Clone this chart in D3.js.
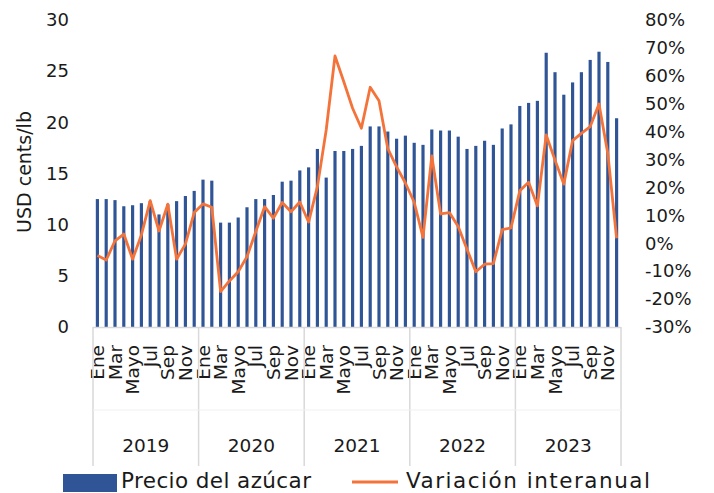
<!DOCTYPE html>
<html>
<head>
<meta charset="utf-8">
<script src="https://cdn.jsdelivr.net/npm/d3@7"></script>
<style>
	body { margin: 0; background: white; }
	svg text { font-family: "DejaVu Sans", sans-serif; fill: #1a1a1a; }
</style>
</head>
<body>
<svg id="chart" width="714" height="493"></svg>
<script>
var years = ["2019", "2020", "2021", "2022", "2023"];
var months = ["Ene", "Feb", "Mar", "Abr", "Mayo", "Jun", "Jul", "Ago", "Sep", "Oct", "Nov", "Dic"];

// precio del azucar, USD cents/lb, ene 2019 - dic 2023
var precio = [
	12.5, 12.5, 12.4, 11.8, 11.9, 12.1, 12.3, 11.0, 12.0, 12.3, 12.8, 13.3,
	14.4, 14.3, 10.2, 10.2, 10.7, 11.7, 12.5, 12.5, 12.9, 14.2, 14.3, 15.3,
	15.6, 17.4, 14.6, 17.2, 17.2, 17.4, 17.7, 19.6, 19.6, 19.1, 18.4, 18.7,
	18.0, 17.8, 19.3, 19.2, 19.2, 18.6, 17.4, 17.7, 18.2, 17.8, 19.4, 19.8,
	21.6, 21.9, 22.1, 26.8, 24.9, 22.7, 23.9, 24.9, 26.1, 26.9, 25.9, 20.4
];
// variacion interanual, %
var variacion = [
	-4.4, -6.0, 0.9, 3.3, -5.7, 3.0, 15.3, 4.4, 14.0, -5.7, -0.3, 11.0,
	14.1, 12.9, -17.3, -13.5, -10.2, -4.8, 4.2, 13.1, 9.0, 14.6, 11.3, 14.8,
	7.6, 20.3, 40.6, 67.1, 57.9, 48.4, 41.2, 55.9, 51.1, 33.9, 27.4, 21.6,
	14.7, 2.1, 31.3, 10.5, 11.0, 6.0, -2.1, -10.2, -7.5, -7.3, 4.9, 5.5,
	18.8, 21.9, 13.4, 38.8, 29.8, 21.2, 36.8, 39.4, 41.8, 49.9, 32.2, 1.8
];
var leftTicks = [0, 5, 10, 15, 20, 25, 30];
var rightTicks = [-30, -20, -10, 0, 10, 20, 30, 40, 50, 60, 70, 80];

var svg = d3.select("#chart");
var margin = { top: 20, left: 93, right: 621, bottom: 327 };

var idx = d3.range(precio.length);
var x = d3.scaleBand()
	.domain(idx)
	.range([margin.left, margin.right])
	.paddingInner(0.64)
	.paddingOuter(0.32);
var yL = d3.scaleLinear().domain([0, 30]).range([margin.bottom, margin.top]);
var yR = d3.scaleLinear().domain([-30, 80]).range([margin.bottom, margin.top]);
var cx = function(i) { return x(i) + x.bandwidth() / 2; };

// left axis
var axL = svg.append("g")
	.attr("transform", "translate(" + 69 + ",0)")
	.call(d3.axisLeft(yL).tickValues(leftTicks).tickSize(0).tickPadding(0));
axL.select(".domain").remove();
axL.selectAll("text").attr("font-size", "18px").attr("font-family", "DejaVu Sans");

// right axis
var axR = svg.append("g")
	.attr("transform", "translate(" + 645 + ",0)")
	.call(d3.axisRight(yR).tickValues(rightTicks).tickSize(0).tickPadding(0)
		.tickFormat(function(d) { return d + "%"; }));
axR.select(".domain").remove();
axR.selectAll("text").attr("font-size", "18px").attr("font-family", "DejaVu Sans");

svg.append("text")
	.attr("transform", "translate(" + 31 + "," + 172 + ") rotate(-90)")
	.attr("text-anchor", "middle")
	.attr("font-size", "19px")
	.text("USD cents/lb");

// bars
svg.append("g").selectAll("rect")
	.data(idx)
	.enter().append("rect")
	.attr("x", function(i) { return x(i); })
	.attr("y", function(i) { return yL(precio[i]); })
	.attr("width", x.bandwidth())
	.attr("height", function(i) { return yL(0) - yL(precio[i]); })
	.attr("fill", "#2f5597");

// x baseline
svg.append("line")
	.attr("x1", margin.left).attr("x2", margin.right)
	.attr("y1", yL(0) + 0.5).attr("y2", yL(0) + 0.5)
	.attr("stroke", "#d9d9d9").attr("stroke-width", 1.5);

// line
var line = d3.line()
	.x(function(i) { return cx(i); })
	.y(function(i) { return yR(variacion[i]); });
svg.append("path")
	.datum(idx)
	.attr("d", line)
	.attr("fill", "none")
	.attr("stroke", "#f4733a")
	.attr("stroke-width", 2.8)
	.attr("stroke-linejoin", "round");

// month labels
var axM = svg.append("g")
	.attr("transform", "translate(0," + yL(0) + ")")
	.call(d3.axisBottom(x).tickSize(0)
		.tickFormat(function(i) { return i % 2 == 0 ? months[i % 12] : ""; }));
axM.select(".domain").remove();
axM.selectAll("text")
	.attr("font-size", "18.5px")
	.attr("font-family", "DejaVu Sans")
	.attr("text-anchor", "end")
	.attr("transform", "rotate(-90)")
	.attr("x", -18)
	.attr("y", 0)
	.attr("dy", "0.36em");

// year groups
var yearW = (margin.right - margin.left) / years.length;
var yearScale = d3.scaleBand().domain(years).range([margin.left, margin.right]);
svg.append("g").selectAll("line")
	.data(d3.range(years.length + 1))
	.enter().append("line")
	.attr("x1", function(j) { return margin.left + j * yearW; })
	.attr("x2", function(j) { return margin.left + j * yearW; })
	.attr("y1", yL(0))
	.attr("y2", 466)
	.attr("stroke", "#d9d9d9").attr("stroke-width", 1.5);
svg.append("line")
	.attr("x1", margin.left).attr("x2", margin.right)
	.attr("y1", 410).attr("y2", 410)
	.attr("stroke", "#f0f0f0").attr("stroke-width", 1);
svg.append("g").selectAll("text")
	.data(years)
	.enter().append("text")
	.attr("x", function(d) { return yearScale(d) + yearScale.bandwidth() / 2; })
	.attr("y", 452)
	.attr("text-anchor", "middle")
	.attr("font-size", "18.5px")
	.text(function(d) { return d; });

// legend
var leg = svg.append("g");
leg.append("rect")
	.attr("x", 63).attr("y", 474).attr("width", 54).attr("height", 18)
	.attr("fill", "#2f5597");
leg.append("text")
	.attr("x", 121).attr("y", 488)
	.attr("font-size", "21.5px")
	.attr("textLength", 190)
	.attr("lengthAdjust", "spacing")
	.text("Precio del azúcar");
leg.append("line")
	.attr("x1", 352).attr("x2", 398).attr("y1", 482).attr("y2", 482)
	.attr("stroke", "#f4733a").attr("stroke-width", 3);
leg.append("text")
	.attr("x", 406).attr("y", 488)
	.attr("font-size", "21.5px")
	.attr("textLength", 244)
	.attr("lengthAdjust", "spacing")
	.text("Variación interanual");
</script>
</body>
</html>
